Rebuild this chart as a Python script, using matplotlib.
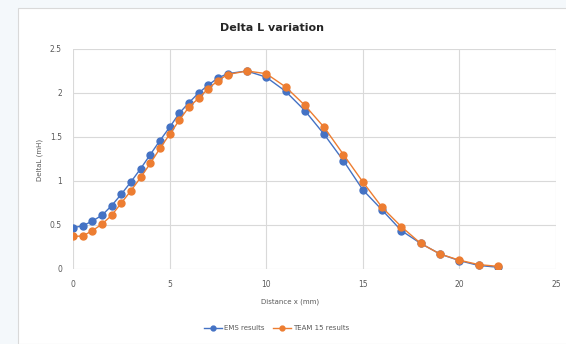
import matplotlib.pyplot as plt
from matplotlib.patches import Rectangle

# distance x (mm): 0..8 step 0.5, then 9..22 step 1
distance = [0, 0.5, 1, 1.5, 2, 2.5, 3, 3.5, 4, 4.5, 5, 5.5, 6, 6.5, 7, 7.5, 8,
            9, 10, 11, 12, 13, 14, 15, 16, 17, 18, 19, 20, 21, 22]
ems = [0.47, 0.49, 0.545, 0.61, 0.72, 0.85, 0.99, 1.14, 1.30, 1.46, 1.61,
       1.77, 1.89, 2.00, 2.09, 2.17, 2.22,
       2.25, 2.18, 2.02, 1.80, 1.53, 1.23, 0.90, 0.67, 0.435, 0.29, 0.17, 0.095, 0.04, 0.02]
team15 = [0.37, 0.375, 0.435, 0.51, 0.61, 0.75, 0.89, 1.04, 1.20, 1.37, 1.53,
          1.69, 1.84, 1.94, 2.05, 2.14, 2.21,
          2.25, 2.22, 2.07, 1.86, 1.61, 1.30, 0.99, 0.70, 0.48, 0.29, 0.17, 0.10, 0.05, 0.03]

W, H = 566, 344
fig = plt.figure(figsize=(W / 100, H / 100), dpi=100)
fig.patch.set_facecolor('#f4f8fb')

# white chart box behind everything
fig.patches.append(Rectangle((18 / W, 0), 1, 1 - 8 / H, transform=fig.transFigure,
                             facecolor='white', edgecolor='#d9d9d9', linewidth=0.8,
                             zorder=-10))

ax = fig.add_axes([73 / W, 1 - 269 / H, (556 - 73) / W, (269 - 49) / H])
ax.set_facecolor('white')

ax.plot(distance, ems, color='#4472C4', marker='o', markersize=5, linewidth=1,
        label='EMS results', zorder=3)
ax.plot(distance, team15, color='#ED7D31', marker='o', markersize=5, linewidth=1,
        label='TEAM 15 results', zorder=3)

ax.set_xlim(0, 25)
ax.set_ylim(0, 2.5)
ax.set_xticks([0, 5, 10, 15, 20, 25])
ax.set_yticks([0, 0.5, 1, 1.5, 2, 2.5])
ax.set_yticklabels(['0', '0.5', '1', '1.5', '2', '2.5'])
ax.grid(True, color='#d9d9d9', linewidth=0.8)
ax.set_axisbelow(True)
for s in ax.spines.values():
    s.set_visible(False)
ax.tick_params(length=0, labelsize=5.5, labelcolor='#595959', pad=8)

fig.text(272 / W, 1 - 28 / H, 'Delta L variation', ha='center', va='center',
         fontsize=8, fontweight='bold', color='#262626')
fig.text(40 / W, 1 - 160 / H, 'DeltaL (mH)', ha='center', va='center', rotation=90,
         fontsize=5, color='#595959')
fig.text(290 / W, 1 - 302 / H, 'Distance x (mm)', ha='center', va='center',
         fontsize=5, color='#595959')

fig.legend(loc='center', bbox_to_anchor=(277 / W, 1 - 328 / H), ncol=2, frameon=False,
           fontsize=5, handlelength=2.5, columnspacing=1.2, handletextpad=0.4,
           labelcolor='#595959', markerscale=0.7)

fig.savefig('out.png', dpi=100, facecolor=fig.get_facecolor())
